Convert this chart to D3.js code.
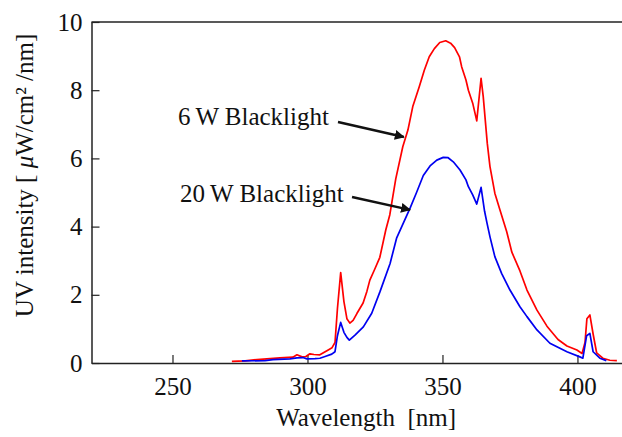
<!DOCTYPE html>
<html>
<head>
<meta charset="utf-8">
<script src="https://cdn.jsdelivr.net/npm/d3@7"></script>
<style>
  body { margin: 0; background: #fff; }
  text { font-family: "Liberation Serif", "Times New Roman", serif; }
</style>
</head>
<body>
<div id="wrapper"></div>
<script>
// wavelength [nm] and intensity for each lamp
const red6W = [
  [272.0, 0.05], [276.9, 0.06], [281.3, 0.10], [289.8, 0.15], [294.6, 0.17],
  [296.1, 0.24], [298.0, 0.18], [299.4, 0.19], [300.9, 0.27], [302.4, 0.25],
  [304.6, 0.24], [307.2, 0.36], [309.1, 0.45], [310.2, 0.60], [311.1, 1.60],
  [312.3, 2.65], [313.5, 1.80], [314.6, 1.30], [315.7, 1.17], [316.9, 1.25],
  [318.3, 1.45], [320.6, 1.76], [322.0, 2.10], [323.1, 2.43], [324.9, 2.75],
  [326.8, 3.10], [329.0, 3.90], [330.5, 4.35], [332.7, 5.40], [335.3, 6.34],
  [337.2, 6.83], [339.0, 7.52], [341.4, 8.10], [343.3, 8.59], [345.1, 8.98],
  [347.0, 9.22], [349.0, 9.40], [351.2, 9.45], [353.0, 9.38], [354.5, 9.25],
  [356.3, 8.98], [357.1, 8.69], [358.7, 8.30], [359.6, 8.00], [361.2, 7.62],
  [362.7, 7.10], [364.3, 8.35], [365.1, 7.81], [366.6, 6.44], [367.6, 5.76],
  [369.4, 4.98], [371.3, 4.49], [373.8, 3.85], [375.7, 3.25], [378.7, 2.70],
  [381.3, 2.14], [385.0, 1.55], [388.7, 1.08], [392.8, 0.69], [396.1, 0.50],
  [399.8, 0.38], [401.7, 0.28], [402.8, 0.60], [403.5, 1.30], [404.6, 1.41],
  [405.8, 0.85], [407.1, 0.30], [409.4, 0.14], [412.0, 0.08], [414.6, 0.07]
]
const blue20W = [
  [275.7, 0.06], [284.3, 0.07], [287.2, 0.10], [293.5, 0.12], [296.1, 0.15],
  [298.3, 0.16], [299.8, 0.12], [302.8, 0.13], [304.6, 0.14], [306.5, 0.19],
  [309.0, 0.26], [310.2, 0.33], [311.1, 0.80], [312.3, 1.19], [313.5, 0.90],
  [314.6, 0.75], [315.5, 0.67], [317.6, 0.82], [320.7, 1.06], [323.8, 1.46],
  [326.9, 2.10], [330.6, 2.92], [333.0, 3.66], [335.5, 4.10], [338.0, 4.54],
  [340.4, 5.00], [342.9, 5.50], [345.4, 5.78], [347.9, 5.95], [350.3, 6.03],
  [352.1, 6.02], [354.0, 5.90], [356.5, 5.66], [358.7, 5.37], [359.6, 5.17],
  [361.2, 4.93], [362.7, 4.66], [364.3, 5.15], [365.6, 4.45], [366.5, 4.10],
  [367.6, 3.70], [369.4, 3.12], [371.9, 2.63], [375.0, 2.14], [378.7, 1.65],
  [381.3, 1.36], [385.0, 0.97], [389.8, 0.58], [393.5, 0.43], [396.1, 0.33],
  [400.9, 0.18], [402.0, 0.14], [403.4, 0.80], [404.6, 0.87], [405.8, 0.33],
  [408.3, 0.14], [410.7, 0.07]
]

const xTicks = [250, 300, 350, 400]
const yTicks = [0, 2, 4, 6, 8, 10]

// label text, label anchor, arrow start, arrow tip (all in data units)
const labels = [
  { text: "6\u2009W Blacklight", at: [252.0, 6.98], from: [311.3, 7.07], to: [335.7, 6.63] },
  { text: "20\u2009W Blacklight", at: [252.8, 4.72], from: [316.5, 4.87], to: [338.0, 4.49] }
]

let dimensions = {
  width: 622,
  height: 437,
  margin: { top: 22, right: 0, bottom: 74, left: 91.5 }
}
dimensions.boundedWidth = dimensions.width - dimensions.margin.left - dimensions.margin.right
dimensions.boundedHeight = dimensions.height - dimensions.margin.top - dimensions.margin.bottom

const wrapper = d3.select("#wrapper")
  .append("svg")
    .attr("width", dimensions.width)
    .attr("height", dimensions.height)

wrapper.append("defs").append("marker")
    .attr("id", "head")
    .attr("viewBox", "0 0 10 10")
    .attr("refX", 9)
    .attr("refY", 5)
    .attr("markerWidth", 4)
    .attr("markerHeight", 4)
    .attr("markerUnits", "strokeWidth")
    .attr("orient", "auto")
  .append("path")
    .attr("d", "M0,0 L10,5 L0,10 Z")
    .attr("fill", "#111")

const bounds = wrapper.append("g")
  .attr("transform", `translate(${dimensions.margin.left},${dimensions.margin.top})`)

// Scales
const xScale = d3.scaleLinear()
  .domain([220, 416.5])
  .range([0, dimensions.boundedWidth])

const yScale = d3.scaleLinear()
  .domain([0, 10])
  .range([dimensions.boundedHeight, 0])

// Frame top line
bounds.append("line")
  .attr("x1", 0)
  .attr("x2", dimensions.boundedWidth)
  .attr("y1", yScale(10))
  .attr("y2", yScale(10))
  .attr("stroke", "#222")
  .attr("stroke-width", 1.5)

// Axes
const yAxisGenerator = d3.axisLeft(yScale)
  .tickValues(yTicks)
  .tickSizeInner(-8)
  .tickSizeOuter(0)
  .tickPadding(9)
const yAxis = bounds.append("g").call(yAxisGenerator)

const xAxisGenerator = d3.axisBottom(xScale)
  .tickValues(xTicks)
  .tickSizeInner(-8)
  .tickSizeOuter(0)
  .tickPadding(14)
const xAxis = bounds.append("g")
  .attr("transform", `translate(0,${dimensions.boundedHeight})`)
  .call(xAxisGenerator)

;[xAxis, yAxis].forEach(ax => {
  ax.select(".domain").attr("stroke", "#222").attr("stroke-width", 1.5)
  ax.selectAll(".tick line").attr("stroke", "#222").attr("stroke-width", 1.2)
  ax.selectAll(".tick text")
    .attr("fill", "#111")
    .style("font-family", '"Liberation Serif", serif')
    .style("font-size", "25px")
})

// Data lines
const lineGenerator = d3.line()
  .x(d => xScale(d[0]))
  .y(d => yScale(d[1]))

bounds.append("path")
  .attr("d", lineGenerator(red6W))
  .attr("fill", "none")
  .attr("stroke", "#f00")
  .attr("stroke-width", 1.7)
  .attr("stroke-linejoin", "round")

bounds.append("path")
  .attr("d", lineGenerator(blue20W))
  .attr("fill", "none")
  .attr("stroke", "#0000f0")
  .attr("stroke-width", 1.7)
  .attr("stroke-linejoin", "round")

// Annotations
labels.forEach(l => {
  bounds.append("text")
    .attr("x", xScale(l.at[0]))
    .attr("y", yScale(l.at[1]))
    .attr("fill", "#111")
    .style("font-size", "25px")
    .text(l.text)
  bounds.append("line")
    .attr("x1", xScale(l.from[0]))
    .attr("y1", yScale(l.from[1]))
    .attr("x2", xScale(l.to[0]))
    .attr("y2", yScale(l.to[1]))
    .attr("stroke", "#111")
    .attr("stroke-width", 2.5)
    .attr("marker-end", "url(#head)")
})

// Axis titles
wrapper.append("text")
  .attr("x", dimensions.margin.left + xScale(321.7))
  .attr("y", 426)
  .attr("text-anchor", "middle")
  .attr("fill", "#111")
  .style("font-size", "25px")
  .style("white-space", "pre")
  .text("Wavelength  [nm]")

const yTitle = wrapper.append("text")
  .attr("transform", `translate(33,${dimensions.margin.top + yScale(5.5)}) rotate(-90)`)
  .attr("text-anchor", "middle")
  .attr("fill", "#111")
  .style("font-size", "25px")
  .style("white-space", "pre")
yTitle.append("tspan").text("UV intensity [ ")
yTitle.append("tspan").style("font-style", "italic").text("\u03bc")
yTitle.append("tspan").text("W/cm\u00b2 /nm]")
</script>
</body>
</html>
